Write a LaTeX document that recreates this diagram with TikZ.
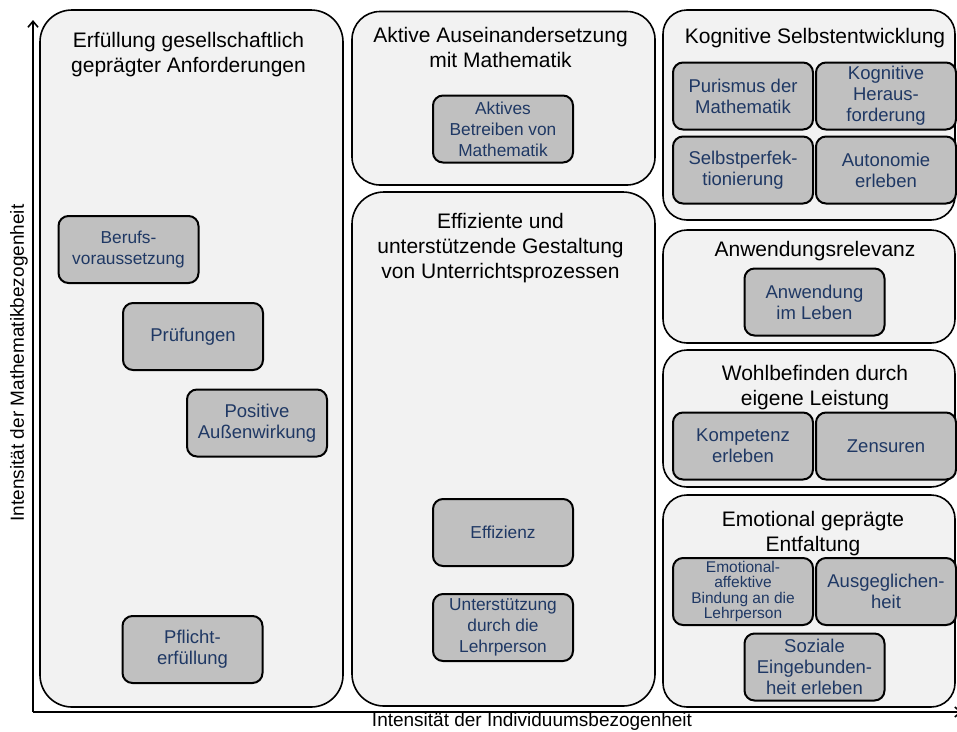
\documentclass[tikz,border=0pt]{standalone}
\usepackage{fontspec}
\setmainfont{Liberation Sans}
\usetikzlibrary{positioning,arrows.meta}
\definecolor{grpfill}{RGB}{242,242,242}
\definecolor{itmfill}{RGB}{192,192,192}
\definecolor{itmtext}{RGB}{31,56,100}

\begin{document}
\begin{tikzpicture}[x=1pt, y=-1pt,
  grp/.style={draw, fill=grpfill, line width=1.6pt, rounded corners=#1,
    anchor=north west, inner sep=0pt, outer sep=0pt},
  grp/.default=24pt,
  ttl/.style={align=center, inner sep=0pt, font=\fontsize{21}{25}\selectfont},
  itm/.style={draw, fill=itmfill, line width=2pt, rounded corners=10pt,
    minimum width=140pt, minimum height=67pt, inner sep=0pt, outer sep=0pt,
    align=center, text=itmtext, font=\fontsize{18.5}{21}\selectfont},
  itms/.style={itm, font=\fontsize{17.3}{21}\selectfont},
  itmt/.style={itm, font=\fontsize{15.5}{15.5}\selectfont},
  axis/.style={line width=1.6pt, -{Straight Barb[length=6pt,width=10pt]}},
  lbl/.style={inner sep=0pt, font=\fontsize{19}{22}\selectfont}]
\useasboundingbox (0,0) rectangle (957,731);
%
\node[grp=32pt, minimum width=303pt, minimum height=697pt] (anf) at (40,10) {};
\node[grp=28pt, minimum width=303pt, minimum height=173.5pt] (akt) at (352,11.5) {};
\node[grp=32pt, minimum width=303pt, minimum height=514pt] (eff) at (352,192) {};
\node[grp, minimum width=292pt, minimum height=210pt] (kog) at (663,10) {};
\node[grp, minimum width=292pt, minimum height=113pt] (anw) at (663,230) {};
\node[grp, minimum width=292pt, minimum height=137pt] (wob) at (663,350) {};
\node[grp, minimum width=292pt, minimum height=212pt] (emo) at (663,495) {};
%
\node[ttl, below=22pt of anf.north, xshift=-3pt] (tanf) {Erfüllung gesellschaftlich\\geprägter Anforderungen};
\node[ttl, below=16pt of akt.north, xshift=-3pt] (takt) {Aktive Auseinandersetzung\\mit Mathematik};
\node[ttl, below=21pt of eff.north, xshift=-3pt] (teff) {Effiziente und\\unterstützende Gestaltung\\von Unterrichtsprozessen};
\node[ttl, below=18pt of kog.north, xshift=6pt] (tkog) {Kognitive Selbstentwicklung};
\node[ttl, below=11.5pt of anw.north, xshift=6pt] (tanw) {Anwendungsrelevanz};
\node[ttl, below=14.7pt of wob.north, xshift=6pt] (twob) {Wohlbefinden durch\\eigene Leistung};
\node[ttl, below=16.4pt of emo.north, xshift=4pt] (temo) {Emotional geprägte\\Entfaltung};
%
\node[itms] (ber) at (128.5,249.5) {Berufs-\\voraussetzung};
\node[itm]  (pru) at (193,336.5)   {Prüfungen};
\node[itm]  (pos) at (257,423)     {Positive\\Außenwirkung};
\node[itm]  (pfl) at (192.5,649.5) {Pflicht-\\erfüllung};
%
\node[itms] (abm) at (503,129)   {Aktives\\Betreiben von\\Mathematik};
\node[itms] (ezz) at (503,532.5) {Effizienz};
\node[itms, below=28pt of ezz] (udl) {Unterstützung\\durch die\\Lehrperson};
%
\node[itm] (pur) at (743,96) {Purismus der\\Mathematik};
\node[itm, right=3pt of pur] (kgh) {Kognitive\\Heraus-\\forderung};
\node[itm, below=7pt of pur] (sep) {Selbstperfek-\\tionierung};
\node[itm, right=3pt of sep] (aut) {Autonomie\\erleben};
%
\node[itm] (ail) at (814.5,302) {Anwendung\\im Leben};
%
\node[itm] (kpe) at (743,446) {Kompetenz\\erleben};
\node[itm, right=3pt of kpe] (zen) {Zensuren};
%
\node[itmt] (eab) at (743,591.5) {Emotional-\\affektive\\Bindung an die\\Lehrperson};
\node[itm, right=3pt of eab] (agh) {Ausgeglichen-\\heit};
\node[itm] (seh) at (814.5,667) {Soziale\\Eingebunden-\\heit erleben};
%
\coordinate (o) at (33,712);
\coordinate (ytop) at (33,20);
\coordinate (xend) at (962,712);
\draw[axis] (o) -- (ytop);
\draw[axis] (o) -- (xend);
\node[lbl, rotate=90] (ylab) at (19,363) {Intensität der Mathematikbezogenheit};
\node[lbl] (xlab) at (532,722) {Intensität der Individuumsbezogenheit};
\end{tikzpicture}
\end{document}
